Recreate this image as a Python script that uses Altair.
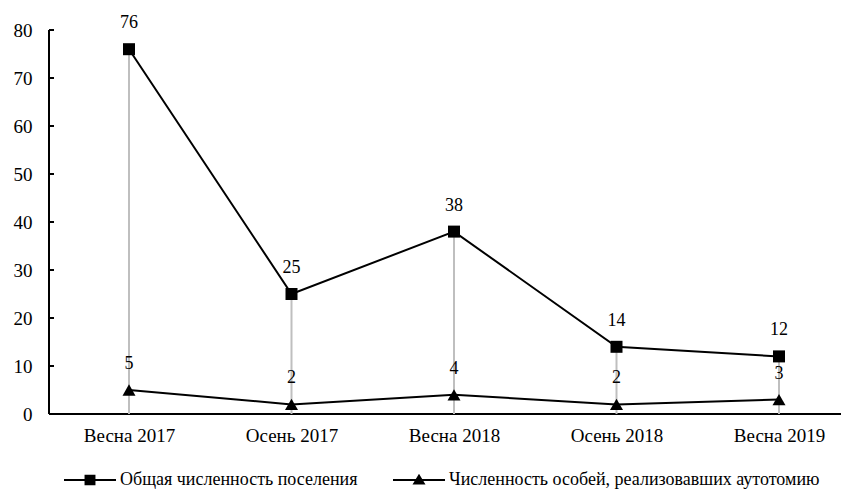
import altair as alt
import pandas as pd

categories = ["Весна 2017", "Осень 2017", "Весна 2018", "Осень 2018", "Весна 2019"]
total_values = [76, 25, 38, 14, 12]
autotomy_values = [5, 2, 4, 2, 3]
series_names = ["Общая численность поселения",
                "Численность особей, реализовавших аутотомию"]
y_ticks = [0, 10, 20, 30, 40, 50, 60, 70, 80]

rows = []
for c, v in zip(categories, total_values):
    rows.append({"season": c, "value": v, "series": series_names[0]})
for c, v in zip(categories, autotomy_values):
    rows.append({"season": c, "value": v, "series": series_names[1]})
df = pd.DataFrame(rows)

FONT = "Liberation Serif"
# legend symbols: a horizontal line with a marker in the middle (all filled shapes)
SQ_PATH = ("M-1,-0.04H1V0.04H-1Z"
           "M-0.21,-0.2H0.21V0.2H-0.21Z")
TRI_PATH = ("M-1,-0.04H1V0.04H-1Z"
            "M0,-0.24L0.25,0.17H-0.25Z")

x_enc = alt.X("season:N", sort=categories,
              scale=alt.Scale(type="point", range=[80, 730], padding=0),
              axis=alt.Axis(title=None, domain=False, ticks=False, labelAngle=0,
                            labelPadding=12, labelFontSize=19))
y_scale = alt.Scale(domain=[0, 80], nice=False)
y_axis = alt.Axis(title=None, values=y_ticks, grid=False, domain=False, ticks=False,
                  labelPadding=17, labelFontSize=19)
y_enc = alt.Y("value:Q", scale=y_scale, axis=y_axis)

base = alt.Chart(df)

# axis lines drawn as rules on the chart's own scales
baseline = alt.Chart(pd.DataFrame({"zero": [0]})).mark_rule(
    color="black", strokeWidth=2
).encode(y=alt.Y("zero:Q", scale=y_scale, axis=y_axis))

yaxis_line = alt.Chart(pd.DataFrame({"lo": [0], "hi": [80]})).mark_rule(
    color="black", strokeWidth=2
).encode(x=alt.value(0), y=alt.Y("lo:Q", scale=y_scale, axis=y_axis), y2="hi:Q")

yaxis_ticks = alt.Chart(pd.DataFrame({"tick": y_ticks})).mark_rule(
    color="black", strokeWidth=2
).encode(x=alt.value(0), x2=alt.value(5), y=alt.Y("tick:Q", scale=y_scale, axis=y_axis))

drops = base.transform_filter(
    alt.datum.series == series_names[0]
).mark_rule(color="#bfbfbf", strokeWidth=2).encode(
    x=x_enc, y=y_enc, y2=alt.datum(0)
)

lines = base.mark_line(color="black", strokeWidth=2).encode(
    x=x_enc, y=y_enc, detail="series:N"
)

points = base.mark_point(filled=True, color="black", opacity=1).encode(
    x=x_enc, y=y_enc,
    shape=alt.Shape("series:N",
                    scale=alt.Scale(domain=series_names, range=["square", "triangle-up"]),
                    legend=None),
    size=alt.Size("series:N", scale=alt.Scale(domain=series_names, range=[144, 169]), legend=None),
)

# legend-only layer (drawn fully transparent), supplies the line+marker legend symbols
legend_layer = base.mark_point(filled=True, color="black", opacity=0).encode(
    x=x_enc, y=y_enc,
    shape=alt.Shape("series:N",
                    scale=alt.Scale(domain=series_names, range=[SQ_PATH, TRI_PATH]),
                    legend=alt.Legend(
                        title=None, orient="none", legendX=14, legendY=423,
                        direction="horizontal", labelFont=FONT, labelFontSize=18,
                        labelColor="black", labelLimit=0, labelOffset=3,
                        columnPadding=32, symbolSize=2704,
                        symbolOpacity=1, symbolFillColor="black")),
)

labels = base.mark_text(dy=-26, fontSize=18, font=FONT, color="black").encode(
    x=x_enc, y=y_enc, text="value:Q"
)

chart = alt.layer(baseline, yaxis_line, yaxis_ticks, drops, lines, points,
                  legend_layer, labels).resolve_scale(
    shape="independent"
).properties(
    width=792, height=384,
    autosize=alt.AutoSizeParams(type="none"),
    padding={"left": 41, "top": 22, "right": 0, "bottom": 75},
).configure_axis(
    labelFont=FONT, labelColor="black",
).configure_view(stroke=None)

chart.save("out.html", embed_options={"renderer": "svg", "actions": False})
